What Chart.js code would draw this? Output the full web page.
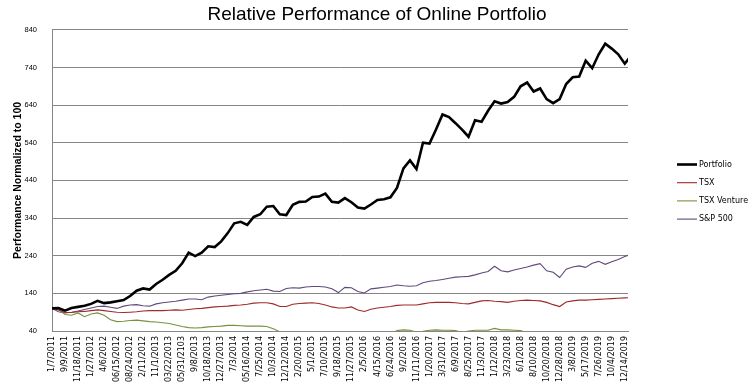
<!DOCTYPE html>
<html>
<head>
<meta charset="utf-8">
<script src="https://cdn.jsdelivr.net/npm/chart.js@4.4.1/dist/chart.umd.min.js"></script>
<style>
  html, body { margin: 0; padding: 0; background: #fff; }
  canvas { display: block; }
</style>
</head>
<body>
<canvas id="chart" width="754" height="388"></canvas>
<script>
// x axis labels, one every 10 weeks (typos kept as in the source sheet)
const tickDates = [
  '1/7/2011', '9/9/2011', '11/18/2011', '1/27/2012', '4/6/2012', '06/15/2012', '08/24/2012', '2/11/2012',
  '11/1/2013', '03/22/2013', '05/31/2103', '9/8/2013', '10/18/2013', '12/27/2013', '7/3/2014', '05/16/2014',
  '7/25/2014', '10/3/2014', '12/12/2014', '2/20/2015', '5/1/2015', '7/10/2015', '9/18/2015', '11/27/2015',
  '2/5/2016', '4/15/2016', '6/24/2016', '9/2/2016', '11/11/2016', '1/20/2017', '3/31/2017', '6/9/2017',
  '8/25/2017', '11/3/2017', '1/12/2018', '3/23/2018', '6/1/2018', '8/10/2018', '10/20/2018', '12/28/2018',
  '3/8/2019', '5/17/2019', '7/26/2019', '10/4/2019', '12/14/2019'
]

// values read every 5 weeks (two samples per label step)
const portfolio = [
  100, 101, 94, 101, 104, 107, 112, 120, 114, 116,
  119, 122, 133, 147, 153, 150, 165, 176, 189, 200,
  220, 248, 239, 248, 265, 263, 278, 300, 326, 330,
  322, 343, 350, 370, 372, 350, 348, 375, 383, 384,
  396, 397, 405, 383, 381, 393, 382, 368, 365, 376,
  388, 390, 395, 420, 472, 493, 470, 540, 538, 575,
  615, 608, 592, 575, 556, 600, 596, 625, 650, 644,
  648, 662, 690, 700, 676, 684, 656, 645, 656, 696,
  714, 716, 758, 738, 775, 803, 790, 775, 750, 772
]
const tsx = [
  100, 96, 89, 89, 91, 92, 94, 96, 94, 92,
  90, 89, 90, 91, 93, 94, 94, 94, 95, 96,
  95, 97, 99, 100, 102, 104, 105, 106, 108, 109,
  111, 114, 115, 115, 112, 105, 105, 111, 113, 114,
  115, 113, 109, 104, 101, 101, 104, 96, 92, 98,
  101, 103, 105, 108, 109, 109, 109, 112, 115, 116,
  116, 116, 115, 113, 112, 116, 120, 121, 119, 118,
  116, 119, 121, 122, 121, 120, 116, 110, 105, 117,
  120, 122, 122, 123, 124, 125, 126, 127, 128, 129
]
const tsxVenture = [
  100, 98, 84, 82, 88, 78, 85, 88, 82, 70,
  65, 66, 68, 69, 67, 65, 64, 62, 60, 56,
  52, 49, 48, 49, 51, 52, 53, 55, 55, 54,
  53, 53, 53, 52, 46, 38, 30, 30, 30, 30,
  30, 30, 30, 30, 30, 30, 30, 30, 30, 30,
  30, 30, 30, 41, 43, 42, 37, 39, 42, 43,
  42, 42, 41, 36, 40, 42, 42, 42, 47, 43,
  43, 42, 41, 35, 30, 30, 30, 30, 30, 30,
  30, 30, 30, 30, 30, 30, 30, 30, 30, 30
]
const sp500 = [
  100, 91, 88, 90, 93, 97, 101, 105, 106, 103,
  100, 106, 109, 110, 107, 106, 112, 115, 117, 119,
  122, 125, 125, 123, 130, 133, 135, 137, 139, 140,
  144, 147, 149, 151, 146, 145, 153, 155, 154, 157,
  158, 158, 157, 152, 142, 156, 155, 145, 141, 152,
  154, 156, 158, 162, 160, 159, 160, 168, 172, 174,
  177, 180, 183, 184, 185, 189, 194, 198, 212, 200,
  197, 202, 206, 210, 215, 219, 200, 196, 182, 204,
  210, 213, 209, 220, 225, 217, 224, 230, 238, 244
]

const yTicks = [40, 140, 240, 340, 440, 540, 640, 740, 840]

function toPoints(values) {
  // sample i sits half a label step after sample i-1
  return values.map((v, i) => ({ x: i / 2, y: v }))
}

// excel style legend on the right: short line + name
const sideLegend = {
  id: 'sideLegend',
  afterDraw(chart) {
    const ctx = chart.ctx
    ctx.save()
    ctx.font = '8px "DejaVu Sans"'
    ctx.textBaseline = 'middle'
    chart.data.datasets.forEach((ds, i) => {
      let y = 164.5 + i * 18.2
      ctx.strokeStyle = ds.borderColor
      ctx.lineWidth = ds.borderWidth
      ctx.beginPath()
      ctx.moveTo(677, y)
      ctx.lineTo(697, y)
      ctx.stroke()
      ctx.fillStyle = '#000'
      ctx.fillText(ds.label, 699, y)
    })
    ctx.restore()
  }
}

const line = (label, values, color, width) => ({
  label: label,
  data: toPoints(values),
  borderColor: color,
  borderWidth: width,
  pointRadius: 0,
  tension: 0,
  fill: false
})

new Chart(document.getElementById('chart'), {
  type: 'line',
  data: {
    datasets: [
      line('Portfolio', portfolio, '#000000', 2.6),
      line('TSX', tsx, '#9E2A2B', 1.1),
      line('TSX Venture', tsxVenture, '#76923C', 1.1),
      line('S&P 500', sp500, '#604A7B', 1.1)
    ]
  },
  options: {
    responsive: false,
    animation: false,
    plugins: {
      legend: { display: false },
      tooltip: { enabled: false },
      title: {
        display: true,
        text: 'Relative Performance of Online Portfolio',
        color: '#000',
        font: { family: 'Liberation Sans', size: 19, weight: 'normal' },
        padding: { top: 3, bottom: 4 }
      }
    },
    scales: {
      x: {
        type: 'linear',
        min: 0,
        max: 44.25,
        grid: { display: false, drawTicks: false },
        border: { display: true, color: '#868686' },
        ticks: {
          autoSkip: false,
          minRotation: 90,
          maxRotation: 90,
          padding: 5,
          color: '#000',
          font: { family: 'DejaVu Sans', size: 8 },
          callback: (v) => tickDates[v]
        },
        afterBuildTicks: (scale) => {
          scale.ticks = tickDates.map((d, i) => ({ value: i }))
        },
        afterFit: (scale) => { scale.height = 57 }
      },
      y: {
        min: 40,
        max: 840,
        grid: { color: '#868686', drawTicks: false },
        border: { display: true, color: '#868686' },
        ticks: {
          padding: 15,
          color: '#000',
          font: { family: 'Liberation Sans', size: 7.5 }
        },
        afterBuildTicks: (scale) => {
          scale.ticks = yTicks.map(v => ({ value: v }))
        },
        title: {
          display: true,
          text: 'Performance Normalized to 100',
          color: '#000',
          font: { family: 'Liberation Sans', size: 10.5, weight: 'bold' },
          padding: { top: 12, bottom: 0 }
        },
        afterFit: (scale) => { scale.width = 52 }
      },
      // empty axis on the right, only keeps room for the legend
      // (layout padding would shift the title off centre)
      legendRoom: {
        type: 'linear',
        position: 'right',
        display: true,
        grid: { display: false, drawTicks: false },
        border: { display: false },
        ticks: { display: false },
        afterFit: (scale) => { scale.width = 126 }
      }
    }
  },
  plugins: [sideLegend]
})
</script>
</body>
</html>
